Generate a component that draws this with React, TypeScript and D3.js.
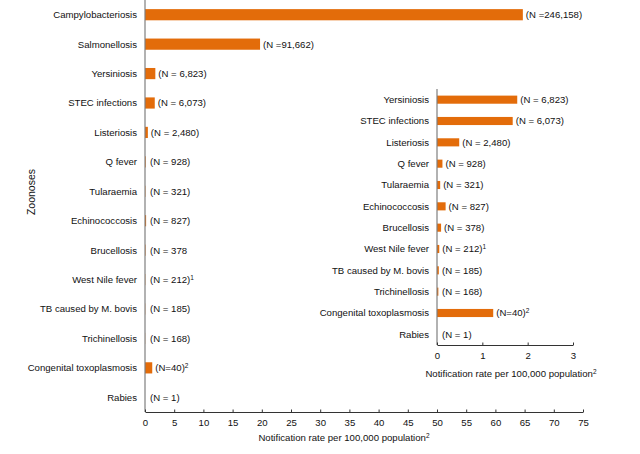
import { useEffect, useRef } from 'react';
import * as d3 from 'd3';

// main chart
const diseases = [
  'Campylobacteriosis', 'Salmonellosis', 'Yersiniosis', 'STEC infections', 'Listeriosis',
  'Q fever', 'Tularaemia', 'Echinococcosis', 'Brucellosis', 'West Nile fever',
  'TB caused by M. bovis', 'Trichinellosis', 'Congenital toxoplasmosis', 'Rabies'
];
const rates = [64.7, 19.7, 1.77, 1.67, 0.49, 0.12, 0.07, 0.19, 0.09, 0.05, 0.04, 0.03, 1.24, 0];
const countLabels = [
  '(N =246,158)', '(N =91,662)', '(N = 6,823)', '(N = 6,073)', '(N = 2,480)',
  '(N = 928)', '(N = 321)', '(N = 827)', '(N = 378', '(N = 212)',
  '(N = 185)', '(N = 168)', '(N=40)', '(N = 1)'
];
const footnotes = ['', '', '', '', '', '', '', '', '', '1', '', '', '2', ''];
const mainTicks = d3.range(0, 80, 5);

// inset: everything except the two biggest
const insetDiseases = diseases.slice(2);
const insetRates = rates.slice(2);
const insetLabels = [
  '(N = 6,823)', '(N = 6,073)', '(N = 2,480)', '(N = 928)', '(N = 321)', '(N = 827)',
  '(N = 378)', '(N = 212)', '(N = 185)', '(N = 168)', '(N=40)', '(N = 1)'
];
const insetFootnotes = footnotes.slice(2);
const insetTicks = [0, 1, 2, 3];

const ORANGE = '#E36C0A';
const AXIS = '#7f7f7f';
const FONT = '"Liberation Sans", Arial, sans-serif';

const App = () => {
  const ref = useRef(null);

  useEffect(() => {
    const svg = d3.select(ref.current);
    svg.selectAll('*').remove();
    svg.style('font-family', FONT).style('font-size', '9.6px');

    const drawPanel = (opts) => {
      const { names, values, labels, notes, ticks, left, right, top, bottom, pad } = opts;
      const x = d3.scaleLinear().domain([ticks[0], ticks[ticks.length - 1]]).range([left, right]);
      const y = d3.scaleBand().domain(names).range([top, bottom]).paddingInner(pad).paddingOuter(pad / 2);
      const g = svg.append('g');

      // bars
      g.selectAll('rect.bar')
        .data(values)
        .join('rect')
        .attr('class', 'bar')
        .attr('x', x(0))
        .attr('y', (d, i) => y(names[i]))
        .attr('width', d => x(d) - x(0))
        .attr('height', y.bandwidth())
        .attr('fill', ORANGE);

      // category labels
      g.selectAll('text.cat')
        .data(names)
        .join('text')
        .attr('class', 'cat')
        .attr('x', left - 8)
        .attr('y', d => y(d) + y.bandwidth() / 2)
        .attr('dy', '0.35em')
        .attr('text-anchor', 'end')
        .attr('fill', '#111')
        .text(d => d);

      // N labels
      const nl = g.selectAll('text.n')
        .data(labels)
        .join('text')
        .attr('class', 'n')
        .attr('x', (d, i) => Math.max(x(values[i]) + 3, left + 5))
        .attr('y', (d, i) => y(names[i]) + y.bandwidth() / 2)
        .attr('dy', '0.35em')
        .attr('fill', '#111');
      nl.append('tspan').text(d => d);
      nl.append('tspan')
        .attr('dy', '-0.5em')
        .style('font-size', '6.5px')
        .text((d, i) => notes[i]);

      // y axis line
      g.append('line')
        .attr('x1', left).attr('x2', left)
        .attr('y1', top).attr('y2', bottom)
        .attr('stroke', AXIS).attr('stroke-width', 1.2);

      // x axis
      const ax = g.append('g').attr('transform', `translate(0,${bottom})`)
        .call(d3.axisBottom(x).tickValues(ticks).tickFormat(d3.format('d')).tickSize(-2.5).tickSizeOuter(0).tickPadding(7));
      ax.select('.domain').attr('stroke', '#333').attr('stroke-width', 1.2);
      ax.selectAll('.tick line').attr('stroke', '#333');
      ax.selectAll('.tick text')
        .attr('fill', '#111')
        .style('font-family', FONT)
        .style('font-size', '9.6px');
      return x;
    };

    drawPanel({
      names: diseases, values: rates, labels: countLabels, notes: footnotes, ticks: mainTicks,
      left: 145, right: 583, top: 0, bottom: 412, pad: 0.62
    });

    drawPanel({
      names: insetDiseases, values: insetRates, labels: insetLabels, notes: insetFootnotes, ticks: insetTicks,
      left: 437, right: 573, top: 89, bottom: 345, pad: 0.62
    });

    // axis titles
    const title = (tx, ty) => {
      const t = svg.append('text')
        .attr('x', tx).attr('y', ty)
        .attr('text-anchor', 'middle')
        .attr('fill', '#111');
      t.append('tspan').text('Notification rate per 100,000 population');
      t.append('tspan').attr('dy', '-0.5em').style('font-size', '6.5px').text('2');
    };
    title(344, 441);
    title(511, 377);

    svg.append('text')
      .attr('transform', 'translate(35,192) rotate(-90)')
      .attr('text-anchor', 'middle')
      .attr('fill', '#111')
      .style('font-size', '10.5px')
      .text('Zoonoses');
  }, []);

  return (
    <svg ref={ref} width={640} height={454} style={{ position: 'absolute', left: 0, top: 0, background: '#fff' }} />
  );
};

export default App;
